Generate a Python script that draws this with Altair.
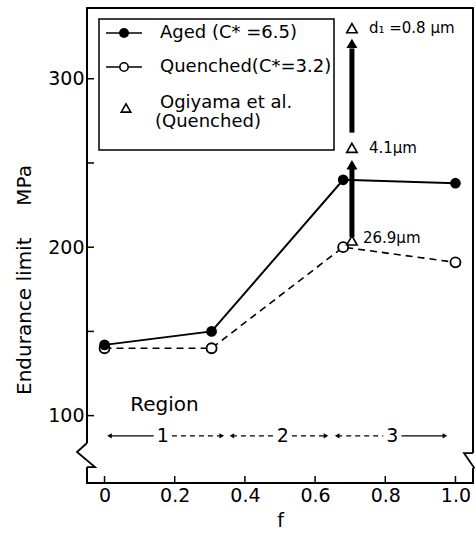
import altair as alt
import pandas as pd

# ---- data ----
f_vals = [0.0, 0.305, 0.68, 1.0]
aged = [142, 150, 240, 238]
quenched = [140, 140, 200, 191]

ogiyama_f = 0.705
ogiyama = [330, 259, 204]
ogiyama_labels = ["d\u2081 =0.8 \u00b5m", "4.1\u00b5m", "26.9\u00b5m"]
ogiyama_near = [False, False, True]

# thick arrows (shaft start, shaft end, head)
arrow_from = [206, 268]
arrow_to = [247, 318]
arrow_head = [249, 321]

# region bands along f
region_names = ["1", "2", "3"]
region_start = [0.014, 0.363, 0.663]
region_mid = [0.166, 0.508, 0.82]
region_end = [0.334, 0.631, 0.97]
region_y = 88

x_ticks = [0.0, 0.2, 0.4, 0.6, 0.8, 1.0]
y_ticks = [100, 150, 200, 250, 300]
y_labels = [100, 200, 300]

W, H = 386, 475
FONT = "DejaVu Sans"

xs = alt.Scale(domain=[-0.05, 1.05], nice=False, zero=False)
ys = alt.Scale(domain=[60, 342], nice=False, zero=False)

x_axis = alt.Axis(values=x_ticks, tickSize=0, domain=False, grid=False,
                  labelFont=FONT, labelFontSize=19, labelColor="black",
                  labelPadding=3, titleFont=FONT, titleFontSize=19,
                  titleFontWeight="normal", titleColor="black", titlePadding=6,
                  labelExpr="datum.value == 0 ? '0' : format(datum.value, '.1f')")
y_axis = alt.Axis(values=y_labels, tickSize=0, domain=False, grid=False,
                  labelFont=FONT, labelFontSize=19, labelColor="black",
                  labelPadding=3)


def xe(field):
    return alt.X(field, type="quantitative", scale=xs, axis=x_axis, title="f")


def ye(field):
    return alt.Y(field, type="quantitative", scale=ys, axis=y_axis, title=None)


df_aged = pd.DataFrame({"f": f_vals, "v": aged})
df_q = pd.DataFrame({"f": f_vals, "v": quenched})
df_og = pd.DataFrame({"f": [ogiyama_f] * 3, "v": ogiyama,
                      "t": ogiyama_labels, "near": ogiyama_near})
df_arrow = pd.DataFrame({"f": [ogiyama_f] * 2, "a": arrow_from, "b": arrow_to,
                         "h": arrow_head})

gap = 0.026
seg_rows = []
for i in range(3):
    seg_rows.append({"x": region_start[i], "x2": region_mid[i] - gap,
                     "solid": i == 0})
    seg_rows.append({"x": region_mid[i] + gap, "x2": region_end[i],
                     "solid": i == 2})
df_seg = pd.DataFrame(seg_rows)
df_seg["y"] = region_y
df_rlab = pd.DataFrame({"f": region_mid, "t": region_names, "y": region_y})
df_rl = pd.DataFrame({"f": region_start, "y": region_y})
df_rr = pd.DataFrame({"f": region_end, "y": region_y})

# inward ticks
xtick = alt.Chart(pd.DataFrame({"f": x_ticks})).mark_rule(color="black", strokeWidth=1.5).encode(
    x=xe("f"), y=alt.value(H), y2=alt.value(H - 7))
ytick = alt.Chart(pd.DataFrame({"v": y_ticks})).mark_rule(color="black", strokeWidth=1.5).encode(
    y=ye("v"), x=alt.value(0), x2=alt.value(7))

ytitle = alt.Chart(pd.DataFrame({"t": ["Endurance limit\u00a0\u00a0\u00a0\u00a0\u00a0MPa"]})).mark_text(
    angle=270, font=FONT, fontSize=20, color="black", baseline="middle", align="center"
).encode(text="t:N", x=alt.value(-62), y=alt.value(272))

aged_line = alt.Chart(df_aged).mark_line(color="black", strokeWidth=2).encode(x=xe("f"), y=ye("v"))
aged_pts = alt.Chart(df_aged).mark_point(shape="circle", filled=True, color="black",
                                         size=115, opacity=1).encode(x=xe("f"), y=ye("v"))
q_line = alt.Chart(df_q).mark_line(color="black", strokeWidth=1.6,
                                   strokeDash=[7, 5]).encode(x=xe("f"), y=ye("v"))
q_pts = alt.Chart(df_q).mark_point(shape="circle", filled=True, fill="white",
                                   stroke="black", strokeWidth=1.8, size=100,
                                   opacity=1).encode(x=xe("f"), y=ye("v"))

og_pts = alt.Chart(df_og).mark_point(shape="triangle-up", filled=False, color="black",
                                     strokeWidth=1.6, size=110, opacity=1).encode(
    x=xe("f"), y=ye("v"))
og_txt_far = alt.Chart(df_og).transform_filter("!datum.near").mark_text(
    font=FONT, fontSize=15, align="left", baseline="middle", color="black", dx=17).encode(
    x=xe("f"), y=ye("v"), text="t:N")
og_txt_near = alt.Chart(df_og).transform_filter("datum.near").mark_text(
    font=FONT, fontSize=15, align="left", baseline="middle", color="black", dx=11, dy=-2).encode(
    x=xe("f"), y=ye("v"), text="t:N")

shaft = alt.Chart(df_arrow).mark_rule(color="black", strokeWidth=5).encode(
    x=xe("f"), y=ye("a"), y2="b:Q")
head = alt.Chart(df_arrow).mark_point(shape="triangle-up", filled=True, color="black",
                                      size=120, opacity=1).encode(x=xe("f"), y=ye("h"))

seg_solid = alt.Chart(df_seg).transform_filter("datum.solid").mark_rule(
    color="black", strokeWidth=1.4).encode(x=xe("x"), x2="x2:Q", y=ye("y"))
seg_dash = alt.Chart(df_seg).transform_filter("!datum.solid").mark_rule(
    color="black", strokeWidth=1.4, strokeDash=[5, 4]).encode(x=xe("x"), x2="x2:Q", y=ye("y"))
r_left = alt.Chart(df_rl).mark_point(shape="triangle-left", filled=True, color="black",
                                     size=28, opacity=1).encode(x=xe("f"), y=ye("y"))
r_right = alt.Chart(df_rr).mark_point(shape="triangle-right", filled=True, color="black",
                                      size=28, opacity=1).encode(x=xe("f"), y=ye("y"))
r_lab = alt.Chart(df_rlab).mark_text(font=FONT, fontSize=19, color="black",
                                     baseline="middle").encode(x=xe("f"), y=ye("y"), text="t:N")
region_title = alt.Chart(pd.DataFrame({"f": [0.073], "v": [106.5], "t": ["Region"]})).mark_text(
    font=FONT, fontSize=20, color="black", align="left", baseline="middle").encode(
    x=xe("f"), y=ye("v"), text="t:N")

# axis-break marks on both vertical axes (symbol paths in unit coordinates)
brk_left_cover = "M -0.25 -1.2 L 0.25 -1.2 L 0.25 1.2 L -0.25 1.2 Z"
brk_left_path = "M 0 -1.2 L -1 -0.3 L 0.8 1.2 L 0 1.2"
brk_right_cover = "M -0.25 -0.7 L 0.25 -0.7 L 0.25 0.8 L -0.25 0.8 Z"
brk_right_path = "M 0 -0.7 L -0.9 -0.7 L 0.1 0.75 L 0 0.8"
brk_left_df = pd.DataFrame({"v": [76.6]})
brk_right_df = pd.DataFrame({"v": [73.6]})


def brk(df, path, xpix, cover):
    kw = dict(filled=True, fill="white", strokeWidth=0) if cover else dict(
        filled=False, color="black", strokeWidth=1.8)
    return alt.Chart(df).mark_point(shape=path, size=400, opacity=1, **kw).encode(
        x=alt.value(xpix), y=ye("v"))


brk_layers = [
    brk(brk_left_df, brk_left_cover, 0, True),
    brk(brk_left_df, brk_left_path, 0, False),
    brk(brk_right_df, brk_right_cover, W, True),
    brk(brk_right_df, brk_right_path, W, False),
]

# legend box
leg_box = alt.Chart(pd.DataFrame({"a": [0]})).mark_rect(
    fill="white", stroke="black", strokeWidth=1.5).encode(
    x=alt.value(12), x2=alt.value(247), y=alt.value(11), y2=alt.value(142))
leg_rows = pd.DataFrame({"y": [25, 59]})
leg_lines = alt.Chart(leg_rows).mark_rule(color="black", strokeWidth=1.6).encode(
    x=alt.value(19), x2=alt.value(55), y=alt.Y("y:Q", scale=None))
leg_dot = alt.Chart(pd.DataFrame({"y": [25]})).mark_point(
    shape="circle", filled=True, color="black", size=100, opacity=1).encode(
    x=alt.value(37), y=alt.Y("y:Q", scale=None))
leg_open = alt.Chart(pd.DataFrame({"y": [59]})).mark_point(
    shape="circle", filled=True, fill="white", stroke="black", strokeWidth=1.6,
    size=70, opacity=1).encode(x=alt.value(37), y=alt.Y("y:Q", scale=None))
leg_tri = alt.Chart(pd.DataFrame({"y": [100]})).mark_point(
    shape="triangle-up", filled=False, color="black", strokeWidth=1.6, size=90,
    opacity=1).encode(x=alt.value(39), y=alt.Y("y:Q", scale=None))
leg_txt = alt.Chart(pd.DataFrame({
    "t": ["Aged (C* =6.5)", "Quenched(C*=3.2)", "Ogiyama  et al.", "(Quenched)"],
    "x": [73, 73, 73, 68], "y": [25, 59, 95, 114]})).mark_text(
    font=FONT, fontSize=18, color="black", align="left", baseline="middle").encode(
    x=alt.X("x:Q", scale=None), y=alt.Y("y:Q", scale=None), text="t:N")

chart = alt.layer(
    xtick, ytick, ytitle,
    q_line, aged_line, q_pts, aged_pts,
    shaft, head, og_pts, og_txt_far, og_txt_near,
    seg_solid, seg_dash, r_left, r_right, r_lab, region_title,
    *brk_layers,
    leg_box, leg_lines, leg_dot, leg_open, leg_tri, leg_txt,
).properties(
    width=W, height=H, background="white",
    autosize=alt.AutoSizeParams(type="none"),
    padding={"left": 87, "top": 8, "right": 3, "bottom": 52},
).configure_view(stroke="black", strokeWidth=2)

chart.save("out.html", embed_options={"renderer": "svg", "actions": False})
